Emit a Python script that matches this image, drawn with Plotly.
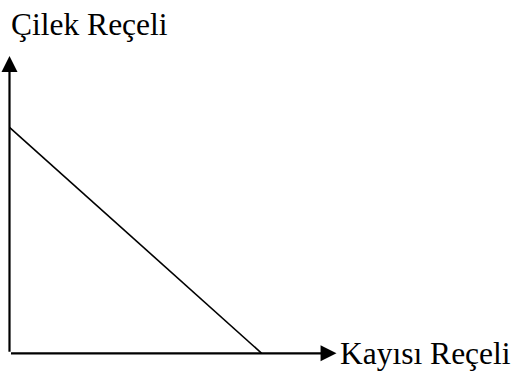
import plotly.graph_objects as go

# Data: production possibilities frontier
kayisi = [0, 9]        # Kayısı Reçeli (x)
cilek = [8, 0]         # Çilek Reçeli (y)
x_label = "Kayısı Reçeli"
y_label = "Çilek Reçeli"
x_axis_len = 11.67
y_axis_len = 10.52

fig = go.Figure()
fig.add_trace(go.Scatter(x=kayisi, y=cilek, mode="lines",
                         line=dict(color="black", width=1.6),
                         hoverinfo="skip", showlegend=False))

font = dict(family="Liberation Serif, Times New Roman, serif", size=31.5, color="black")

# axes with arrows
fig.add_annotation(x=x_axis_len, y=0, ax=0, ay=0, xref="x", yref="y", axref="x", ayref="y",
                   text="", showarrow=True, arrowhead=2, arrowsize=1.45, arrowwidth=2.2,
                   arrowcolor="black")
fig.add_annotation(x=0, y=y_axis_len, ax=0, ay=0, xref="x", yref="y", axref="x", ayref="y",
                   text="", showarrow=True, arrowhead=2, arrowsize=1.45, arrowwidth=2.2,
                   arrowcolor="black")

# labels
fig.add_annotation(x=9 / 514, y=1 - 24 / 373, xref="paper", yref="paper",
                   text=y_label, showarrow=False, xanchor="left", yanchor="middle", font=font)
fig.add_annotation(x=338 / 514, y=1 - 353 / 373, xref="paper", yref="paper",
                   text=x_label, showarrow=False, xanchor="left", yanchor="middle", font=font)

fig.update_layout(
    width=514, height=373,
    margin=dict(l=0, r=0, t=0, b=0),
    paper_bgcolor="white", plot_bgcolor="white",
    xaxis=dict(range=[-0.339, 18.005], visible=False, fixedrange=True),
    yaxis=dict(range=[-0.697, 12.506], visible=False, fixedrange=True),
)

fig.write_html("out.html", config={"displayModeBar": False},
               post_script="document.body.style.margin='0';document.body.style.overflow='hidden';")
